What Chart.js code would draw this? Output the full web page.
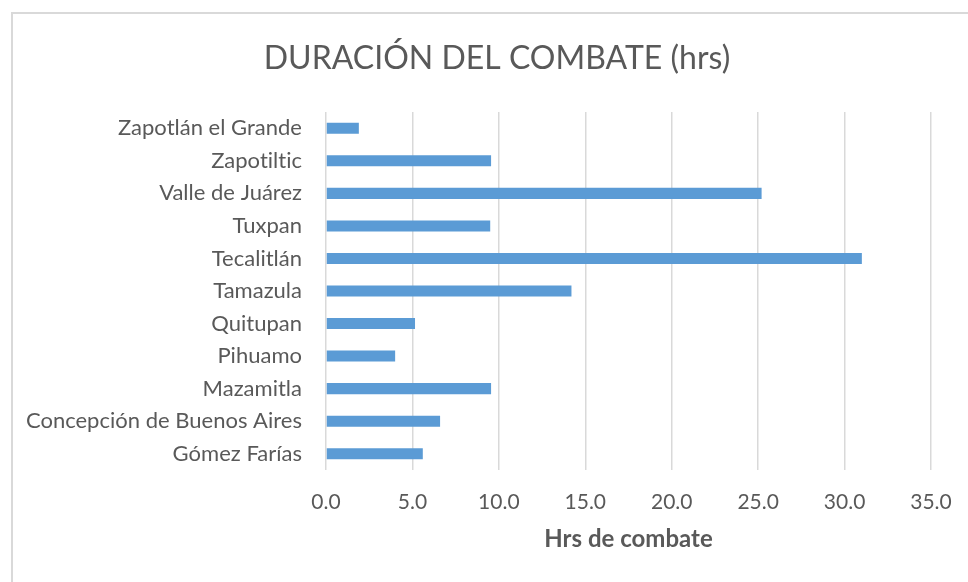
<!DOCTYPE html>
<html lang="es">
<head>
  <meta charset="UTF-8" />
  <title>Duración del combate</title>
  <script src="https://cdn.jsdelivr.net/npm/chart.js"></script>
  <style>
    html, body { margin: 0; padding: 0; background: #fff; }
    #wrap { position: relative; width: 968px; height: 582px; }
    #frame { position: absolute; left: 11px; top: 12px; right: 0; bottom: -2px;
             border-left: 2px solid #d9d9d9; border-top: 2px solid #d9d9d9; }
    canvas { position: absolute; left: 0; top: 0; }
  </style>
</head>
<body>
  <div id="wrap">
    <div id="frame"></div>
    <canvas id="chart" width="968" height="582"></canvas>
  </div>

  <script>
    const titleText = 'DURACIÓN DEL COMBATE (hrs)';
    const axisTitle = 'Hrs de combate';
    const municipios = [
      'Zapotlán el Grande', 'Zapotiltic', 'Valle de Juárez', 'Tuxpan', 'Tecalitlán',
      'Tamazula', 'Quitupan', 'Pihuamo', 'Mazamitla', 'Concepción de Buenos Aires', 'Gómez Farías'
    ];
    const horas = [1.9, 9.55, 25.2, 9.5, 31.0, 14.2, 5.15, 4.0, 9.55, 6.6, 5.6];
    const xTicks = [0, 5, 10, 15, 20, 25, 30, 35];

    const grey = '#595959';
    const font = 'Lato';

    // title drawn by hand so it can sit left of the canvas centre like the original
    const titlePlugin = {
      id: 'manualTitle',
      beforeDraw(chart) {
        // tiny spacing keeps Lato from joining "ti" into a ligature
        chart.ctx.letterSpacing = '0.01px';
      },
      afterDraw(chart) {
        const ctx = chart.ctx;
        ctx.save();
        ctx.fillStyle = grey;
        ctx.font = '32px ' + font;
        ctx.textAlign = 'center';
        ctx.textBaseline = 'middle';
        ctx.fillText(titleText, 497, 59);
        ctx.restore();
      }
    };

    new Chart(document.getElementById('chart'), {
      type: 'bar',
      data: {
        labels: municipios,
        datasets: [{
          data: horas,
          backgroundColor: '#5b9bd5',
          borderWidth: 0,
          barPercentage: 0.34,
          categoryPercentage: 1
        }]
      },
      options: {
        indexAxis: 'y',
        responsive: false,
        animation: false,
        layout: { padding: { top: 112, right: 37, left: 0, bottom: 24 } },
        plugins: {
          legend: { display: false },
          title: { display: false },
          tooltip: { enabled: false }
        },
        scales: {
          x: {
            min: 0,
            max: 35,
            afterBuildTicks(scale) { scale.ticks = xTicks.map(v => ({ value: v })); },
            afterFit(scale) {
              scale.height = 88;
              // don't let the "35.0" label push the plot area in
              scale.paddingLeft = 0;
              scale.paddingRight = 0;
            },
            grid: { color: '#d9d9d9', lineWidth: 1.5, drawTicks: false },
            border: { display: false },
            ticks: {
              color: grey,
              font: { family: font, size: 21 },
              padding: 20,
              maxRotation: 0,
              callback: v => Number(v).toFixed(1)
            },
            title: {
              display: true,
              text: axisTitle,
              color: grey,
              font: { family: font, size: 24, weight: 'bold' },
              padding: { top: 8 }
            }
          },
          y: {
            afterFit(scale) { scale.width = 326; },
            grid: { display: false },
            border: { display: false },
            ticks: {
              color: grey,
              font: { family: font, size: 22 },
              padding: 16
            }
          }
        }
      },
      plugins: [titlePlugin]
    });
  </script>
</body>
</html>
